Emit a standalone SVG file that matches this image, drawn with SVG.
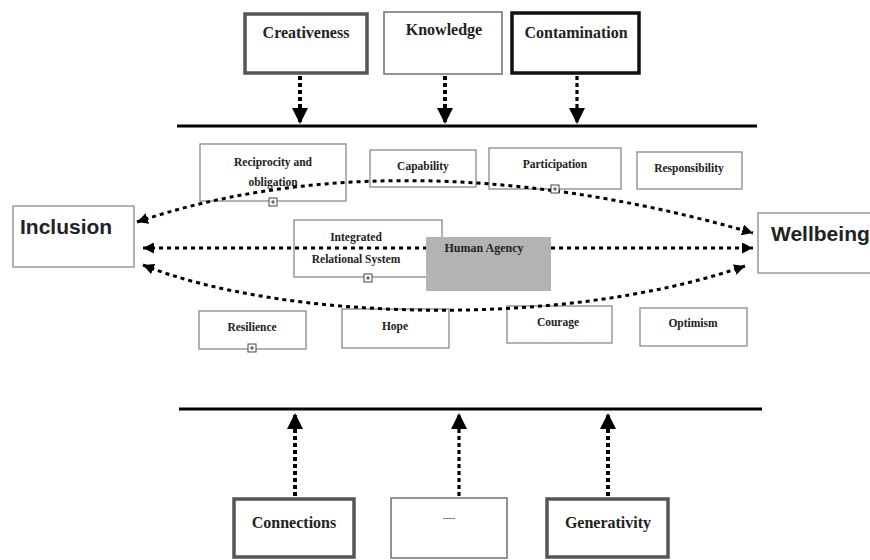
<svg xmlns="http://www.w3.org/2000/svg" width="870" height="560" viewBox="0 0 870 560">
<style>
.bg{fill:#fff}
.box{fill:#fff;stroke:#8a8a8a;stroke-width:1.3}
.tbox{fill:#fff;stroke:#555;stroke-width:3.5}
.kbox{fill:#fff;stroke:#777;stroke-width:1.6}
.cbox{fill:#fff;stroke:#111;stroke-width:3.5}
.agency{fill:#b3b3b3;stroke:none}
.big{font-family:"Liberation Serif","Times New Roman",serif;font-weight:bold;font-size:16px;fill:#222;text-anchor:middle}
.mid{font-family:"Liberation Serif","Times New Roman",serif;font-weight:bold;font-size:11.5px;fill:#222;text-anchor:middle}
.sans{font-family:"Liberation Sans",Arial,sans-serif;font-weight:bold;font-size:21px;fill:#222}
.bar{stroke:#000;stroke-width:3;fill:none}
.vdot{stroke:#000;stroke-width:4;stroke-dasharray:4 3;fill:none}
.hdot{stroke:#000;stroke-width:3;stroke-dasharray:4 4;fill:none}
.icon{fill:#fff;stroke:#444;stroke-width:1}
.iconl{stroke:#444;stroke-width:1}
</style>
<defs>
<marker id="ah" viewBox="0 0 10 10" refX="10" refY="5" markerWidth="11" markerHeight="11" markerUnits="userSpaceOnUse" orient="auto-start-reverse">
<path d="M0,0 L10,5 L0,10 Z" fill="#000"/>
</marker>
<marker id="bh" viewBox="0 0 10 10" refX="10" refY="5" markerWidth="18" markerHeight="16" markerUnits="userSpaceOnUse" orient="auto">
<path d="M0,0 L10,5 L0,10 Z" fill="#000"/>
</marker>
</defs>
<rect class="bg" x="0" y="0" width="870" height="560"/>

<g id="creativeness"><rect class="tbox" x="245" y="14" width="122" height="59"/><text class="big" x="306" y="38">Creativeness</text></g>
<g id="knowledge"><rect class="kbox" x="384" y="12" width="118" height="62"/><text class="big" x="444" y="35">Knowledge</text></g>
<g id="contamination"><rect class="cbox" x="512" y="13" width="127" height="60"/><text class="big" x="576" y="38">Contamination</text></g>

<g id="inclusion"><rect class="box" x="13" y="206" width="121" height="61"/><text class="sans" x="20" y="234">Inclusion</text></g>
<g id="wellbeing"><rect class="box" x="758" y="213" width="125" height="60"/><text class="sans" x="771" y="241">Wellbeing</text></g>

<g id="reciprocity"><rect class="box" x="200" y="144" width="146" height="57"/><text class="mid" x="273" y="166">Reciprocity and</text><text class="mid" x="273" y="186">obligation</text></g>
<g id="capability"><rect class="box" x="370" y="150" width="106" height="37"/><text class="mid" x="423" y="170">Capability</text></g>
<g id="participation"><rect class="box" x="489" y="148" width="132" height="41"/><text class="mid" x="555" y="168">Participation</text></g>
<g id="responsibility"><rect class="box" x="637" y="152" width="105" height="37"/><text class="mid" x="689" y="172">Responsibility</text></g>
<g id="integrated"><rect class="box" x="294" y="220" width="148" height="57"/><text class="mid" x="356" y="241">Integrated</text><text class="mid" x="356" y="263">Relational System</text></g>
<g id="resilience"><rect class="box" x="199" y="311" width="107" height="38"/><text class="mid" x="252" y="331">Resilience</text></g>
<g id="hope"><rect class="box" x="342" y="309" width="107" height="39"/><text class="mid" x="395" y="330">Hope</text></g>
<g id="courage"><rect class="box" x="507" y="306" width="105" height="37"/><text class="mid" x="558" y="326">Courage</text></g>
<g id="optimism"><rect class="box" x="640" y="308" width="107" height="38"/><text class="mid" x="693" y="327">Optimism</text></g>

<g id="connections-box"><rect class="tbox" x="234" y="499" width="120" height="58"/><text class="big" x="294" y="528">Connections</text></g>
<g id="ellipsis"><rect class="kbox" x="391" y="498" width="116" height="60"/><text class="mid" x="449" y="521" style="font-size:9px;font-weight:normal">----</text></g>
<g id="generativity"><rect class="tbox" x="547" y="499" width="121" height="58"/><text class="big" x="608" y="528">Generativity</text></g>

<g id="connectors">
<line class="bar" x1="177" y1="126" x2="757" y2="126"/>
<line class="bar" x1="179" y1="409" x2="762" y2="409"/>
<line class="vdot" x1="300" y1="76" x2="300" y2="124" marker-end="url(#bh)"/>
<line class="vdot" x1="445" y1="76" x2="445" y2="124" marker-end="url(#bh)"/>
<line class="vdot" x1="577" y1="76" x2="577" y2="124" style="stroke-width:3.2" marker-end="url(#bh)"/>
<line class="vdot" x1="295" y1="496" x2="295" y2="413" marker-end="url(#bh)"/>
<line class="vdot" x1="459" y1="496" x2="459" y2="413" style="stroke-width:3.2" marker-end="url(#bh)"/>
<line class="vdot" x1="608" y1="496" x2="608" y2="413" marker-end="url(#bh)"/>
<path class="hdot" d="M137,222 C290,170 500,160 753,233" marker-start="url(#ah)" marker-end="url(#ah)"/>
<line class="hdot" x1="143" y1="248" x2="753" y2="248" marker-start="url(#ah)" marker-end="url(#ah)"/>
<path class="hdot" d="M143,265 C280,320 560,330 745,266" marker-start="url(#ah)" marker-end="url(#ah)"/>
</g>

<g id="human-agency"><rect class="agency" x="426" y="237" width="125" height="54"/><text class="mid" x="484" y="252" style="font-size:12px">Human Agency</text></g>

<g id="icons">
<rect class="icon" x="269" y="198" width="8" height="8"/><line class="iconl" x1="271" y1="202" x2="275" y2="202"/><line class="iconl" x1="273" y1="200" x2="273" y2="204"/>
<rect class="icon" x="551" y="185" width="8" height="8"/><line class="iconl" x1="553" y1="189" x2="557" y2="189"/><line class="iconl" x1="555" y1="187" x2="555" y2="191"/>
<rect class="icon" x="364" y="274" width="8" height="8"/><line class="iconl" x1="366" y1="278" x2="370" y2="278"/><line class="iconl" x1="368" y1="276" x2="368" y2="280"/>
<rect class="icon" x="248" y="344" width="8" height="8"/><line class="iconl" x1="250" y1="348" x2="254" y2="348"/><line class="iconl" x1="252" y1="346" x2="252" y2="350"/>
</g>
</svg>
